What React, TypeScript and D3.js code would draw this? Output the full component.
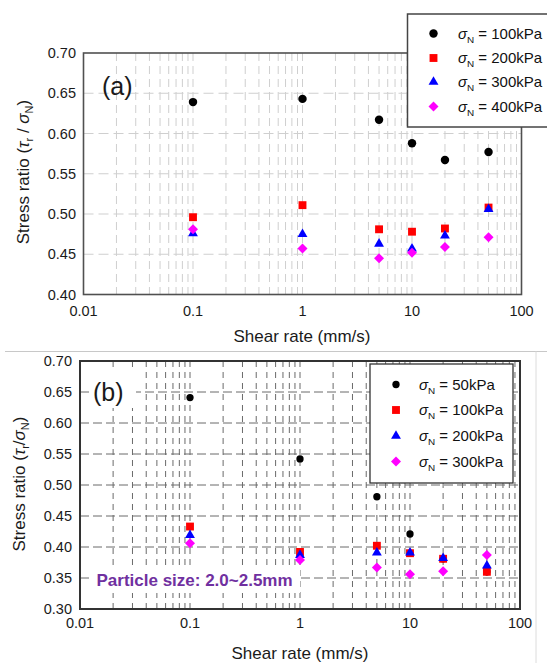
import React from "react";
import * as d3 from "d3";

// Shear rates tested (mm/s)
const shearRates = [0.1, 1, 5, 10, 20, 50];

// Log-axis ticks
const xTickValues = [0.01, 0.1, 1, 10, 100];
const xTickLabels = ["0.01", "0.1", "1", "10", "100"];

// Panel (a): stress ratio per normal stress
const stressLabelsA = ["100kPa", "200kPa", "300kPa", "400kPa"];
const ratioA100 = [0.639, 0.643, 0.617, 0.588, 0.567, 0.577];
const ratioA200 = [0.496, 0.511, 0.481, 0.478, 0.482, 0.508];
const ratioA300 = [0.476, 0.475, 0.463, 0.457, 0.473, 0.506];
const ratioA400 = [0.481, 0.457, 0.445, 0.452, 0.459, 0.471];
const yTicksA = [0.4, 0.45, 0.5, 0.55, 0.6, 0.65, 0.7];

// Panel (b): stress ratio per normal stress, particle size 2.0~2.5mm
const stressLabelsB = ["50kPa", "100kPa", "200kPa", "300kPa"];
const ratioB50 = [0.641, 0.542, 0.481, 0.421, 0.381, 0.36];
const ratioB100 = [0.433, 0.392, 0.402, 0.39, 0.381, 0.36];
const ratioB200 = [0.419, 0.387, 0.391, 0.391, 0.382, 0.37];
const ratioB300 = [0.406, 0.379, 0.367, 0.356, 0.361, 0.387];
const yTicksB = [0.3, 0.35, 0.4, 0.45, 0.5, 0.55, 0.6, 0.65, 0.7];

const markerKinds = ["circle", "square", "triangle", "diamond"];
const markerColors = ["#000000", "#ff0000", "#0000ff", "#ff00ff"];

const FONT = "'Liberation Sans', Arial, Helvetica, sans-serif";

function markerPath(kind: string, circleSize: number): string {
  if (kind === "circle") return d3.symbol(d3.symbolCircle, circleSize)() as string;
  if (kind === "square") return d3.symbol(d3.symbolSquare, 62)() as string;
  if (kind === "triangle") return d3.symbol(d3.symbolTriangle, 42)() as string;
  return d3.symbol(d3.symbolSquare, 50)() as string;
}

function Marker({ kind, color, x, y, circleSize = 56 }:
  { kind: string; color: string; x: number; y: number; circleSize?: number }) {
  const rot = kind === "diamond" ? " rotate(45)" : "";
  return <path d={markerPath(kind, circleSize)} fill={color} transform={`translate(${x},${y})${rot}`} />;
}

function SigmaLabel({ x, y, text, size }: { x: number; y: number; text: string; size: number }) {
  return (
    <text x={x} y={y} fontFamily={FONT} fontSize={size} fill="#111">
      <tspan fontStyle="italic">σ</tspan>
      <tspan fontSize={size * 0.66} dy={4}>N</tspan>
      <tspan dy={-4}>{" = " + text}</tspan>
    </text>
  );
}

type PanelProps = {
  left: number;
  top: number;
  right: number;
  bottom: number;
  yDomain: [number, number];
  yTicks: number[];
  series: number[][];
  circleSize: number;
  gridColor: string;
  vDash: string;
  hDash: string;
  frameColor: string;
  frameWidth: number;
  xLabelOffset: number;
  xTitleY: number;
  xTitleX: number;
  yLabelRight: number;
  yTitleX: number;
  yTitleY: number;
  compactTitle: boolean;
};

function Panel(p: PanelProps) {
  const x = d3.scaleLog().domain([0.01, 100]).range([p.left, p.right]);
  const y = d3.scaleLinear().domain(p.yDomain).range([p.bottom, p.top]);

  const vGrid: number[] = [];
  for (let k = -2; k <= 1; k++) {
    for (let m = 1; m <= 9; m++) {
      const v = m * Math.pow(10, k);
      if (v > 0.01 && v < 100) vGrid.push(v);
    }
  }
  const hGrid = p.yTicks.filter((t) => t > p.yDomain[0] + 1e-9 && t < p.yDomain[1] - 1e-9);

  return (
    <g>
      {vGrid.map((v) => (
        <line key={"v" + v} x1={x(v)} x2={x(v)} y1={p.top} y2={p.bottom}
          stroke={p.gridColor} strokeWidth={1} strokeDasharray={p.vDash} />
      ))}
      {hGrid.map((t) => (
        <line key={"h" + t} x1={p.left} x2={p.right} y1={y(t)} y2={y(t)}
          stroke={p.gridColor} strokeWidth={1} strokeDasharray={p.hDash} />
      ))}
      <rect x={p.left} y={p.top} width={p.right - p.left} height={p.bottom - p.top}
        fill="none" stroke={p.frameColor} strokeWidth={p.frameWidth} />

      {p.yTicks.map((t) => (
        <text key={"yl" + t} x={p.yLabelRight} y={y(t) + 5} textAnchor="end"
          fontFamily={FONT} fontSize={14.5} fill="#1a1a1a">{t.toFixed(2)}</text>
      ))}
      {xTickValues.map((v, i) => (
        <text key={"xl" + v} x={x(v)} y={p.bottom + p.xLabelOffset} textAnchor="middle"
          fontFamily={FONT} fontSize={14.5} fill="#1a1a1a">{xTickLabels[i]}</text>
      ))}
      <text x={p.xTitleX} y={p.xTitleY} textAnchor="middle" fontFamily={FONT} fontSize={17} fill="#1a1a1a">
        Shear rate (mm/s)
      </text>
      <text transform={`translate(${p.yTitleX},${p.yTitleY}) rotate(-90)`} textAnchor="middle"
        fontFamily={FONT} fontSize={17} fill="#1a1a1a">
        <tspan>{"Stress ratio ("}</tspan>
        <tspan fontStyle="italic">τ</tspan>
        <tspan fontSize={11} dy={4}>r</tspan>
        <tspan dy={-4}>{p.compactTitle ? "/" : " / "}</tspan>
        <tspan fontStyle="italic">σ</tspan>
        <tspan fontSize={11} dy={4}>N</tspan>
        <tspan dy={-4}>)</tspan>
      </text>

      {p.series.map((vals, si) => (
        <g key={"s" + si}>
          {vals.map((v, i) => (
            <Marker key={i} kind={markerKinds[si]} color={markerColors[si]}
              x={x(shearRates[i])} y={y(v)} circleSize={p.circleSize} />
          ))}
        </g>
      ))}
    </g>
  );
}

export default function App() {
  const seriesA = [ratioA100, ratioA200, ratioA300, ratioA400];
  const seriesB = [ratioB50, ratioB100, ratioB200, ratioB300];
  const legendRowsA = [33.5, 58, 82, 106.5];
  const legendRowsB = [384.5, 410, 436, 461.5];

  return (
    <svg width={547} height={663} viewBox="0 0 547 663"
      style={{ position: "absolute", left: 0, top: 0, background: "#fff" }}>
      <rect x={0} y={0} width={547} height={663} fill="#fff" />

      {/* Panel (a) */}
      <Panel left={83.5} top={53} right={521.5} bottom={294.5}
        yDomain={[0.4, 0.7]} yTicks={yTicksA} series={seriesA} circleSize={56}
        gridColor="#cfcfcf" vDash="8 5" hDash="10 5"
        frameColor="#505050" frameWidth={1.6}
        xLabelOffset={21} xTitleX={302} xTitleY={342}
        yLabelRight={76} yTitleX={29} yTitleY={172} compactTitle={false} />
      <text x={102} y={95} fontFamily={FONT} fontSize={25} fill="#1a1a1a">(a)</text>
      <rect x={407.5} y={14} width={150} height={113} fill="#fff" stroke="#444" strokeWidth={1.5} />
      {stressLabelsA.map((lab, i) => (
        <g key={"la" + i}>
          <Marker kind={markerKinds[i]} color={markerColors[i]} x={433.5} y={legendRowsA[i]} />
          <SigmaLabel x={458} y={legendRowsA[i] + 5} text={lab} size={15} />
        </g>
      ))}

      {/* Panel (b) border */}
      <line x1={5} x2={547} y1={351.5} y2={351.5} stroke="#c8c8c8" strokeWidth={1} />
      <line x1={536} x2={536} y1={351.5} y2={663} stroke="#dcdcdc" strokeWidth={1} />

      {/* Panel (b) */}
      <Panel left={80} top={361} right={520} bottom={609}
        yDomain={[0.3, 0.7]} yTicks={yTicksB} series={seriesB} circleSize={42}
        gridColor="#6a6a6a" vDash="6 5" hDash="9 4"
        frameColor="#333" frameWidth={2}
        xLabelOffset={19} xTitleX={300} xTitleY={659}
        yLabelRight={72} yTitleX={25} yTitleY={484} compactTitle={true} />
      <rect x={89} y={372} width={47} height={36} fill="#fff" />
      <text x={93} y={401} fontFamily={FONT} fontSize={25} fill="#1a1a1a">(b)</text>
      <rect x={92} y={566} width={208} height={27} fill="#fff" />
      <text x={96.5} y={585.5} fontFamily={FONT} fontSize={17} fontWeight="bold" fill="#7030a0">
        Particle size: 2.0~2.5mm
      </text>
      <rect x={370} y={364} width={143} height={119} fill="#fff" stroke="#333" strokeWidth={1.3} />
      {stressLabelsB.map((lab, i) => (
        <g key={"lb" + i}>
          <Marker kind={markerKinds[i]} color={markerColors[i]} x={396} y={legendRowsB[i]} circleSize={42} />
          <SigmaLabel x={419} y={legendRowsB[i] + 5} text={lab} size={15} />
        </g>
      ))}
    </svg>
  );
}
